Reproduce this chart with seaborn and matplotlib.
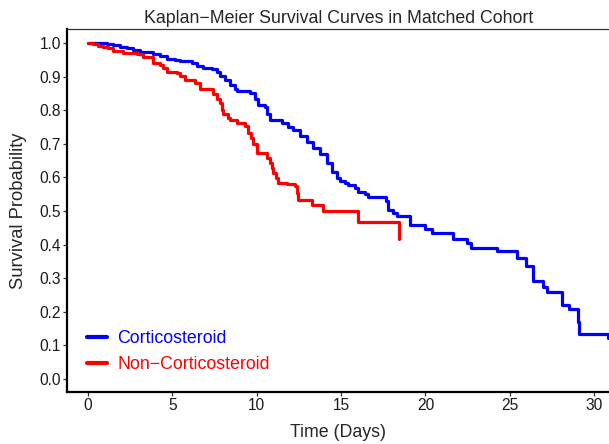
import pandas as pd
import matplotlib
matplotlib.use("Agg")
import matplotlib.pyplot as plt
import seaborn as sns

# Kaplan-Meier step points (time in days, survival)
cortico_time = [0, 1.13, 1.48, 1.9, 2.31, 2.67, 3.08, 3.85, 4.27, 4.68, 5.16, 5.45,
                6.15, 6.44, 6.83, 7.33, 7.63, 7.82, 8.12, 8.42, 8.71, 8.85, 9.6, 9.9,
                10.1, 10.5, 10.63, 10.79, 11.48, 11.87, 12.17, 12.57, 12.96, 13.36,
                13.75, 14.15, 14.45, 14.74, 14.94, 15.23, 15.4, 15.83, 16.0, 16.4,
                16.6, 17.66, 17.78, 18.08, 18.3, 19.09, 19.98, 20.37, 21.64, 22.47,
                22.69, 24.23, 25.43, 25.96, 26.4, 26.95, 27.2, 28.08, 28.53, 29.03,
                29.1, 30.84]
cortico_surv = [1.0, 0.997, 0.994, 0.989, 0.984, 0.979, 0.974, 0.967, 0.961, 0.954,
                0.949, 0.946, 0.94, 0.932, 0.927, 0.922, 0.915, 0.902, 0.89, 0.875,
                0.862, 0.858, 0.85, 0.835, 0.815, 0.809, 0.79, 0.771, 0.763, 0.751,
                0.741, 0.723, 0.706, 0.687, 0.67, 0.642, 0.617, 0.597, 0.59, 0.583,
                0.577, 0.568, 0.557, 0.55, 0.542, 0.53, 0.503, 0.494, 0.485, 0.458,
                0.446, 0.435, 0.417, 0.405, 0.391, 0.382, 0.36, 0.336, 0.293, 0.275,
                0.26, 0.22, 0.207, 0.17, 0.134, 0.122]

noncortico_time = [0, 0.31, 0.6, 0.89, 1.19, 1.48, 2.07, 2.89, 3.26, 3.85, 4.27, 4.45,
                   4.66, 5.26, 5.45, 5.75, 6.34, 6.64, 7.43, 7.63, 7.82, 7.94, 8.02,
                   8.3, 8.42, 8.81, 9.31, 9.5, 9.66, 9.8, 10.0, 10.61, 10.79, 10.89,
                   10.98, 11.14, 11.28, 11.78, 12.27, 12.41, 12.47, 13.26, 13.95,
                   16.02, 18.43]
noncortico_surv = [1.0, 0.996, 0.992, 0.989, 0.984, 0.977, 0.971, 0.967, 0.959, 0.941,
                   0.934, 0.926, 0.915, 0.91, 0.902, 0.89, 0.882, 0.862, 0.848, 0.835,
                   0.821, 0.8, 0.79, 0.777, 0.771, 0.761, 0.753, 0.731, 0.717, 0.70,
                   0.674, 0.658, 0.642, 0.628, 0.612, 0.598, 0.584, 0.58, 0.574,
                   0.553, 0.533, 0.518, 0.50, 0.468, 0.416]

groups = ["Corticosteroid", "Non\u2212Corticosteroid"]
colors = ["#0000FF", "#FF0000"]
x_ticks = [0, 5, 10, 15, 20, 25, 30]
y_ticks = [0.0, 0.1, 0.2, 0.3, 0.4, 0.5, 0.6, 0.7, 0.8, 0.9, 1.0]

df = pd.concat([
    pd.DataFrame({"time": cortico_time, "surv": cortico_surv, "group": groups[0]}),
    pd.DataFrame({"time": noncortico_time, "surv": noncortico_surv, "group": groups[1]}),
])

sns.set_theme(style="ticks")
plt.rcParams["font.family"] = ["Liberation Sans", "DejaVu Sans"]

fig = plt.figure(figsize=(6.09, 4.44), dpi=100)
ax = fig.add_axes([0.1105, 0.1171, 0.8895, 0.8176])

sns.lineplot(data=df, x="time", y="surv", hue="group", hue_order=groups,
             palette=colors, drawstyle="steps-post", estimator=None,
             linewidth=2.3, ax=ax)

ax.set_xlim(-1.23, 30.88)
ax.set_ylim(-0.039, 1.042)
ax.set_xticks(x_ticks)
ax.set_yticks(y_ticks)
ax.set_yticklabels([f"{v:.1f}" for v in y_ticks])
ax.tick_params(labelsize=11.2, length=3, width=0.9, color="#333333",
               labelcolor="#1a1a1a", pad=1.5)

for side in ["left", "bottom"]:
    ax.spines[side].set_linewidth(1.6)
    ax.spines[side].set_color("black")
ax.spines["top"].set_linewidth(0.9)
ax.spines["top"].set_color("#333333")
ax.spines["right"].set_visible(False)

ax.set_title("Kaplan\u2212Meier Survival Curves in Matched Cohort", fontsize=12.8, pad=4)
ax.set_xlabel("Time (Days)", fontsize=12.8, labelpad=8)
ax.set_ylabel("Survival Probability", fontsize=13.2, labelpad=9)

handles, labels = ax.get_legend_handles_labels()
leg = ax.legend(handles, labels, loc="lower left", bbox_to_anchor=(0.02, 0.027),
                frameon=False, fontsize=12.8, handlelength=1.1, handletextpad=0.6,
                labelspacing=0.5, borderpad=0)
for text, c in zip(leg.get_texts(), colors):
    text.set_color(c)
for line in leg.get_lines():
    line.set_linewidth(3)

fig.savefig("out.png", dpi=100)
